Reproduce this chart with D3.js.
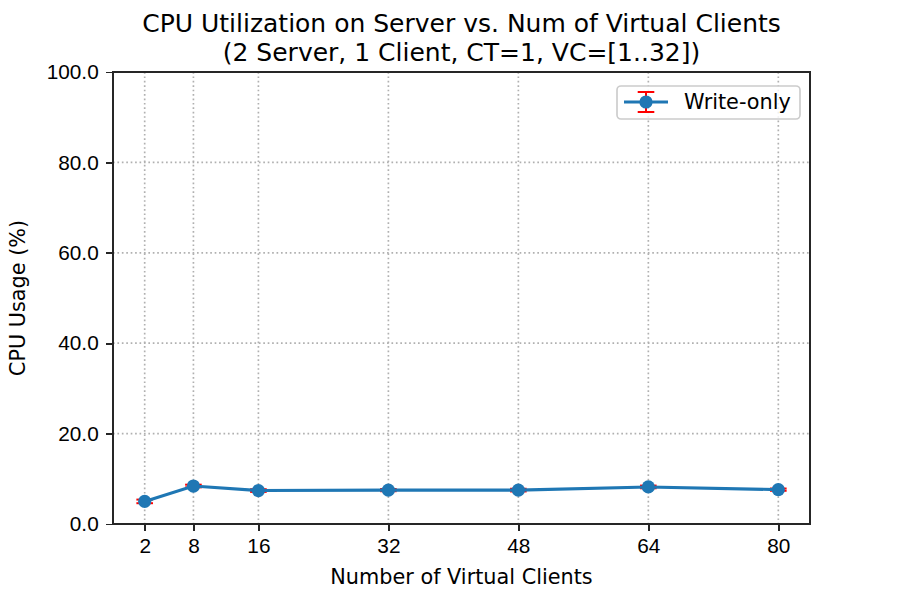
<!DOCTYPE html>
<meta charset="utf-8">
<style>
    body { margin: 0; background: white; }
    svg { font-family: "DejaVu Sans", sans-serif; }
    .axis path, .axis line { stroke: #262626; stroke-width: 1.67px; shape-rendering: crispEdges; }
    .axis text { font-size: 20.8px; fill: black; }
    .grid line { stroke: #b0b0b0; stroke-width: 1.67px; stroke-dasharray: 1.67, 2.75; }
</style>
<body>
<script src="https://cdn.jsdelivr.net/npm/d3@7"></script>
<script>
    // data
    const clients = [2, 8, 16, 32, 48, 64, 80];
    const cpuUsage = [5.0, 8.4, 7.4, 7.5, 7.5, 8.2, 7.6];
    const cpuErr = [0.4, 0.3, 0.3, 0.25, 0.3, 0.3, 0.25];
    const xTicks = [2, 8, 16, 32, 48, 64, 80];
    const yTicks = [0, 20, 40, 60, 80, 100];
    const seriesName = "Write-only";

    const margin = {top: 72, right: 90, bottom: 76, left: 113};
    const width = 900 - margin.left - margin.right;
    const height = 600 - margin.top - margin.bottom;

    const blue = "#1f77b4";

    const svg = d3.select("body").append("svg")
        .attr("width", 900)
        .attr("height", 600);

    const g = svg.append("g")
        .attr("transform", "translate(" + margin.left + "," + margin.top + ")");

    // matplotlib style 5% padding on x
    const xPad = (80 - 2) * 0.05;
    const x = d3.scaleLinear().domain([2 - xPad, 80 + xPad]).range([0, width]);
    const y = d3.scaleLinear().domain([0, 100]).range([height, 0]);

    // grid
    g.append("g").attr("class", "grid")
        .selectAll("line").data(xTicks).enter().append("line")
        .attr("x1", d => x(d)).attr("x2", d => x(d))
        .attr("y1", 0).attr("y2", height);
    g.append("g").attr("class", "grid")
        .selectAll("line").data(yTicks).enter().append("line")
        .attr("y1", d => y(d)).attr("y2", d => y(d))
        .attr("x1", 0).attr("x2", width);

    // axes
    g.append("g")
        .attr("class", "x axis")
        .attr("transform", "translate(0," + height + ")")
        .call(d3.axisBottom(x).tickValues(xTicks).tickSize(7.3).tickPadding(7).tickSizeOuter(0))
        .call(a => a.select(".domain").remove());

    g.append("g")
        .attr("class", "y axis")
        .call(d3.axisLeft(y).tickValues(yTicks).tickFormat(d3.format(".1f")).tickSize(7.3).tickPadding(7).tickSizeOuter(0))
        .call(a => a.select(".domain").remove());

    // frame
    g.append("rect")
        .attr("width", width).attr("height", height)
        .attr("fill", "none")
        .attr("stroke", "#262626")
        .attr("stroke-width", 1.67)
        .style("shape-rendering", "crispEdges");

    const pts = clients.map((c, i) => ({x: c, y: cpuUsage[i], e: cpuErr[i]}));

    // error bars
    const err = g.append("g").attr("class", "errors");
    err.selectAll(".ebar").data(pts).enter().append("line")
        .attr("x1", d => x(d.x)).attr("x2", d => x(d.x))
        .attr("y1", d => y(d.y - d.e)).attr("y2", d => y(d.y + d.e))
        .attr("stroke", "red").attr("stroke-width", 2);
    [-1, 1].forEach(s => {
        err.selectAll(".cap" + s).data(pts).enter().append("line")
            .attr("x1", d => x(d.x) - 8.3).attr("x2", d => x(d.x) + 8.3)
            .attr("y1", d => y(d.y + s * d.e)).attr("y2", d => y(d.y + s * d.e))
            .attr("stroke", "red").attr("stroke-width", 2);
    });

    // series line + markers
    const line = d3.line().x(d => x(d.x)).y(d => y(d.y));
    g.append("path").datum(pts)
        .attr("d", line)
        .attr("fill", "none")
        .attr("stroke", blue)
        .attr("stroke-width", 3.1);
    g.selectAll(".dot").data(pts).enter().append("circle")
        .attr("class", "dot")
        .attr("cx", d => x(d.x)).attr("cy", d => y(d.y))
        .attr("r", 6.6)
        .attr("fill", blue);

    // legend
    const legend = g.append("g").attr("transform", "translate(" + (width - 193) + ",14)");
    legend.append("rect")
        .attr("width", 183).attr("height", 33).attr("rx", 4)
        .attr("fill", "white").attr("fill-opacity", 0.8)
        .attr("stroke", "#cccccc").attr("stroke-width", 1.67);
    const lx = 29, ly = 16;
    legend.append("line").attr("x1", lx).attr("x2", lx).attr("y1", ly - 10).attr("y2", ly + 10)
        .attr("stroke", "red").attr("stroke-width", 2);
    [-10, 10].forEach(o => legend.append("line")
        .attr("x1", lx - 8.3).attr("x2", lx + 8.3).attr("y1", ly + o).attr("y2", ly + o)
        .attr("stroke", "red").attr("stroke-width", 2));
    legend.append("line").attr("x1", lx - 22).attr("x2", lx + 22).attr("y1", ly).attr("y2", ly)
        .attr("stroke", blue).attr("stroke-width", 3.1);
    legend.append("circle").attr("cx", lx).attr("cy", ly).attr("r", 6.6).attr("fill", blue);
    legend.append("text").attr("x", 67).attr("y", ly).attr("dy", "0.36em")
        .style("font-size", "20.8px").text(seriesName);

    // title
    const title = svg.append("text")
        .attr("x", margin.left + width / 2)
        .attr("text-anchor", "middle")
        .style("font-size", "25px");
    title.append("tspan").attr("x", margin.left + width / 2).attr("y", 32)
        .text("CPU Utilization on Server vs. Num of Virtual Clients");
    title.append("tspan").attr("x", margin.left + width / 2).attr("y", 61)
        .text("(2 Server, 1 Client, CT=1, VC=[1..32])");

    // axis labels
    svg.append("text")
        .attr("x", margin.left + width / 2).attr("y", 584)
        .attr("text-anchor", "middle")
        .style("font-size", "20.8px")
        .text("Number of Virtual Clients");
    svg.append("text")
        .attr("transform", "translate(25," + (margin.top + height / 2) + ") rotate(-90)")
        .attr("text-anchor", "middle")
        .style("font-size", "20.8px")
        .text("CPU Usage (%)");
</script>
</body>
</html>
